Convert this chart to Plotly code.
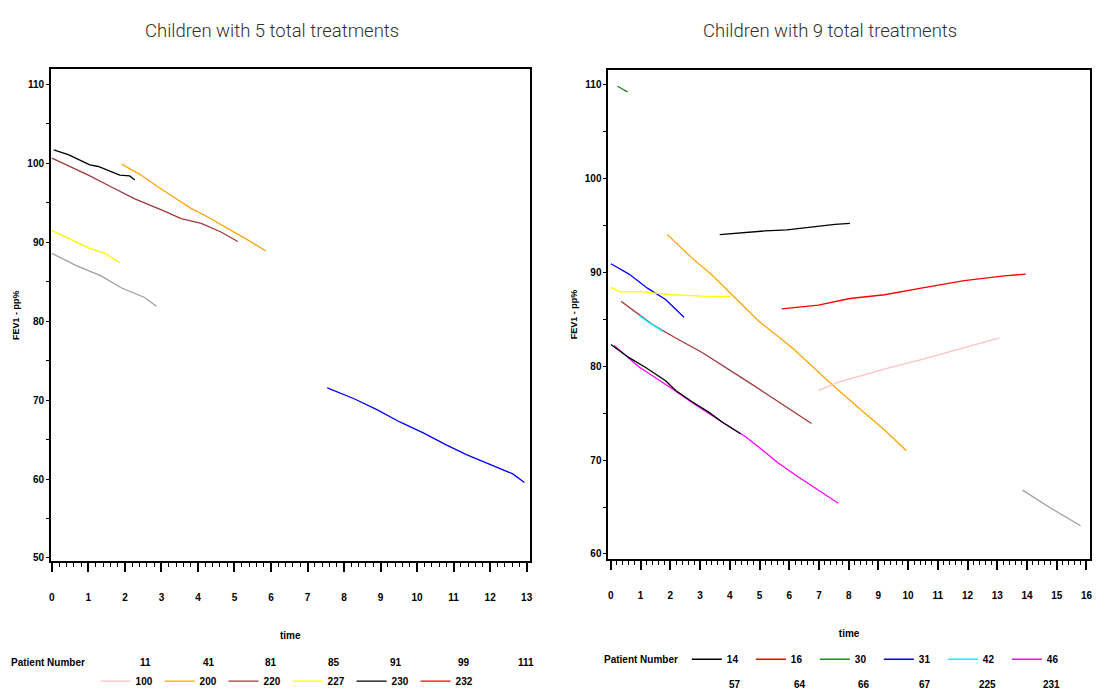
import plotly.graph_objects as go

W, H = 1096, 696
FONT = "Liberation Sans, Arial, sans-serif"
TITLE_FONT = "Roboto, Liberation Sans, sans-serif"

# ---------------- Children with 5 total treatments ----------------
# time (years) and FEV1 % predicted per patient
p200_t = [1.91, 2.45, 2.91, 3.36, 3.81, 4.27, 4.81, 5.36, 5.86]
p200_v = [99.9, 98.5, 97.0, 95.6, 94.3, 93.2, 91.8, 90.3, 88.9]
p220_t = [0.0, 0.45, 1.0, 1.63, 2.27, 3.0, 3.54, 4.09, 4.63, 5.09]
p220_v = [100.65, 99.7, 98.5, 97.0, 95.5, 94.1, 93.0, 92.4, 91.3, 90.1]
p227_t = [0.0, 0.45, 1.0, 1.45, 1.86]
p227_v = [91.5, 90.5, 89.3, 88.6, 87.4]
p230_t = [0.05, 0.45, 1.04, 1.27, 1.86, 2.13, 2.27]
p230_v = [101.7, 101.1, 99.8, 99.6, 98.5, 98.4, 97.9]
p85_t = [0.0, 0.64, 1.36, 1.91, 2.54, 2.86]
p85_v = [88.6, 87.1, 85.7, 84.2, 83.0, 81.9]
p99_t = [7.54, 8.26, 8.90, 9.54, 10.17, 10.81, 11.35, 11.99, 12.62, 12.94]
p99_v = [71.55, 70.2, 68.8, 67.2, 65.85, 64.3, 63.1, 61.9, 60.65, 59.55]
# patients 100 and 232 have no visits plotted in this panel
p100_t, p100_v = [None], [None]
p232_t, p232_v = [None], [None]

left_row1_labels = ["11", "41", "81", "85", "91", "99", "111"]

# ---------------- Children with 9 total treatments ----------------
p14_t = [3.66, 4.36, 5.19, 5.92, 6.78, 7.54, 8.04]
p14_v = [94.0, 94.2, 94.4, 94.5, 94.85, 95.1, 95.2]
p16_t = [5.75, 6.98, 8.04, 9.21, 10.44, 11.89, 13.23, 13.96]
p16_v = [86.1, 86.5, 87.2, 87.6, 88.3, 89.1, 89.6, 89.8]
p30_t = [0.22, 0.56]
p30_v = [109.8, 109.2]
p31_t = [0.0, 0.61, 1.23, 1.84, 2.46]
p31_v = [90.9, 89.8, 88.3, 87.1, 85.2]
p42_t = [0.95, 1.3, 1.75]
p42_v = [85.4, 84.6, 83.7]
p46_t = [0.11, 0.95, 2.06, 2.79, 3.74, 4.52, 4.97, 5.64, 6.31, 6.98, 7.65]
p46_v = [82.2, 79.9, 77.6, 76.0, 74.05, 72.5, 71.4, 69.65, 68.2, 66.8, 65.4]
p57_t = [6.98, 7.65, 8.43, 9.32, 10.44, 11.44, 12.23, 13.07]
p57_v = [77.4, 78.3, 79.0, 79.8, 80.7, 81.6, 82.3, 83.0]
p64_t = [1.90, 2.73, 3.40, 4.07, 4.97, 6.08, 7.42, 8.32, 9.21, 9.94]
p64_v = [94.0, 91.5, 89.7, 87.6, 84.8, 82.0, 78.1, 75.6, 73.2, 71.0]
p66_t = [0.34, 0.95, 1.39, 2.18, 3.07, 4.63, 6.31, 6.75]
p66_v = [86.9, 85.5, 84.45, 83.0, 81.45, 78.3, 74.8, 73.9]
p67_t = [0.0, 0.3, 1.06, 2.06, 3.07, 4.02]
p67_v = [88.4, 87.9, 87.9, 87.6, 87.45, 87.4]
p225_t = [0.0, 0.61, 1.17, 1.84, 2.18, 2.73, 3.29, 3.74, 4.36]
p225_v = [82.3, 80.9, 79.85, 78.45, 77.4, 76.2, 75.1, 74.05, 72.8]
p231_t = [13.85, 14.79, 15.8]
p231_v = [66.8, 64.9, 63.0]

right_row2_labels = ["57", "64", "66", "67", "225", "231"]

fig = go.Figure()


def add_line(t, v, name, color, xa, ya, legend=None, width=1.3):
    fig.add_trace(go.Scatter(
        x=t, y=v, name=name, mode="lines",
        line=dict(color=color, width=width),
        xaxis=xa, yaxis=ya,
        showlegend=legend is not None,
        legend=legend or "legend",
        hoverinfo="skip",
    ))


# left panel: the six patients listed in the legend row plus two others
add_line(p100_t, p100_v, "100", "#FFC0C0", "x", "y", "legend")
add_line(p200_t, p200_v, "200", "#FFA500", "x", "y", "legend")
add_line(p220_t, p220_v, "220", "#A0383C", "x", "y", "legend")
add_line(p227_t, p227_v, "227", "#FFFF00", "x", "y", "legend")
add_line(p230_t, p230_v, "230", "#000000", "x", "y", "legend")
add_line(p232_t, p232_v, "232", "#FF0000", "x", "y", "legend")
add_line(p85_t, p85_v, "85", "#A0A0A0", "x", "y")
add_line(p99_t, p99_v, "99", "#0000FF", "x", "y")

# right panel
add_line(p14_t, p14_v, "14", "#000000", "x2", "y2", "legend2")
add_line(p16_t, p16_v, "16", "#FF0000", "x2", "y2", "legend2")
add_line(p30_t, p30_v, "30", "#228B22", "x2", "y2", "legend2")
add_line(p31_t, p31_v, "31", "#0000FF", "x2", "y2", "legend2")
add_line(p64_t, p64_v, "64", "#FFA500", "x2", "y2")
add_line(p67_t, p67_v, "67", "#FFFF00", "x2", "y2")
add_line(p66_t, p66_v, "66", "#A0383C", "x2", "y2")
add_line(p42_t, p42_v, "42", "#00FFFF", "x2", "y2", "legend2")
add_line(p46_t, p46_v, "46", "#FF00FF", "x2", "y2", "legend2")
add_line(p225_t, p225_v, "225", "#000000", "x2", "y2")
add_line(p57_t, p57_v, "57", "#FFC0C0", "x2", "y2")
add_line(p231_t, p231_v, "231", "#A0A0A0", "x2", "y2")

# legend entries sorted by patient number
for tr in fig.data:
    if tr.showlegend:
        tr.legendrank = int(tr.name)

tickfont = dict(family=FONT, size=10, color="black", weight="bold")


def xaxis(rng, domain, anchor):
    return dict(
        domain=domain, range=rng, anchor=anchor,
        tickmode="linear", tick0=0, dtick=1,
        showline=True, linewidth=1.5, linecolor="black", mirror=True,
        ticks="outside", ticklen=9, tickwidth=1.5, tickcolor="black",
        ticklabelstandoff=17,
        minor=dict(ticks="outside", ticklen=4, tickwidth=1, tickcolor="black", dtick=0.2),
        showgrid=False, zeroline=False, tickfont=tickfont,
        title=dict(text="time", font=dict(family=FONT, size=10, color="black", weight="bold"),
                   standoff=30),
    )


def yaxis(rng, domain, anchor, lo, hi):
    return dict(
        domain=domain, range=rng, anchor=anchor,
        tickmode="array", tickvals=list(range(lo, hi + 1, 10)),
        showline=True, linewidth=1.5, linecolor="black", mirror=True,
        ticks="outside", ticklen=3, tickwidth=1, tickcolor="black",
        minor=dict(ticks="outside", ticklen=3, tickwidth=1, tickcolor="black",
                   tickvals=list(range(lo + 5, hi, 10))),
        showgrid=False, zeroline=False, tickfont=tickfont,
        title=dict(text="FEV1 - pp%", font=dict(family=FONT, size=9, color="black", weight="bold"),
                   standoff=6),
    )


legend_common = dict(
    orientation="h", bgcolor="rgba(0,0,0,0)", borderwidth=0,
    font=dict(family=FONT, size=10, color="black", weight="bold"),
    entrywidthmode="pixels", itemclick=False, itemdoubleclick=False,
    traceorder="normal", xanchor="left", yanchor="middle",
)

annotations = [
    dict(text="Children with 5 total treatments", x=271 / W, y=1 - 31 / H,
         xref="paper", yref="paper", showarrow=False, xanchor="center", yanchor="middle",
         font=dict(family=TITLE_FONT, size=18.5, color="#303030", weight=300)),
    dict(text="Children with 9 total treatments", x=832 / W, y=1 - 31 / H,
         xref="paper", yref="paper", showarrow=False, xanchor="center", yanchor="middle",
         font=dict(family=TITLE_FONT, size=18.5, color="#303030", weight=300)),
    dict(text="Patient Number", x=7 / W, y=1 - 667 / H, xref="paper", yref="paper",
         showarrow=False, xanchor="left", yanchor="middle",
         font=dict(family=FONT, size=10, color="black", weight="bold")),
    dict(text="Patient Number", x=603 / W, y=1 - 664 / H, xref="paper", yref="paper",
         showarrow=False, xanchor="left", yanchor="middle",
         font=dict(family=FONT, size=10, color="black", weight="bold")),
]

for lab, cx in zip(left_row1_labels, [144, 208, 270, 334, 396, 464, 526]):
    annotations.append(dict(text=lab, x=cx / W, y=1 - 667 / H, xref="paper", yref="paper",
                            showarrow=False, xanchor="center", yanchor="middle",
                            font=dict(family=FONT, size=10, color="black", weight="bold")))
for lab, cx in zip(right_row2_labels, [736, 802, 866, 927, 990, 1054]):
    annotations.append(dict(text=lab, x=cx / W, y=1 - 689 / H, xref="paper", yref="paper",
                            showarrow=False, xanchor="center", yanchor="middle",
                            font=dict(family=FONT, size=10, color="black", weight="bold")))

fig.update_layout(
    width=W, height=H, autosize=False,
    margin=dict(l=0, r=0, t=0, b=0),
    paper_bgcolor="white", plot_bgcolor="white",
    xaxis=xaxis([-0.03, 13.08], [49 / W, 530 / W], "y"),
    yaxis=yaxis([49.62, 111.89], [1 - 565 / H, 1 - 70 / H], "x", 50, 110),
    xaxis2=xaxis([-0.09, 16.12], [609 / W, 1093 / W], "y2"),
    yaxis2=yaxis([59.47, 111.53], [1 - 563 / H, 1 - 70.5 / H], "x2", 60, 110),
    legend=dict(legend_common, x=94 / W, y=1 - 686 / H, entrywidth=19),
    legend2=dict(legend_common, x=688 / W, y=1 - 664 / H, entrywidth=19),
    annotations=annotations,
    showlegend=True,
)

fig.write_html("out.html")
